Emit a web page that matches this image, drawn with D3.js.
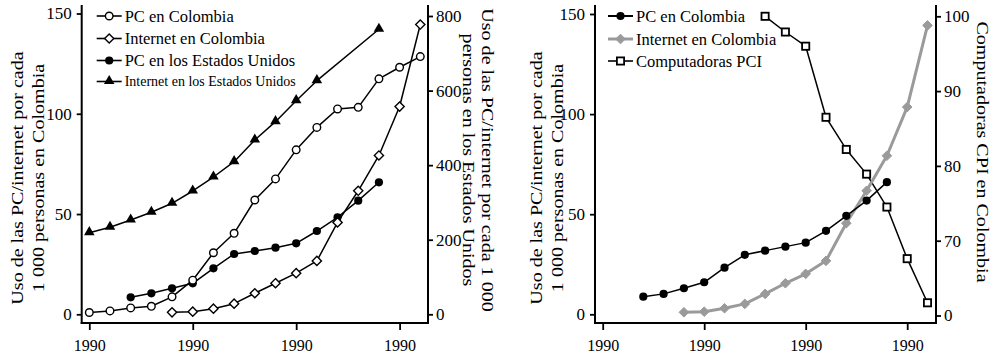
<!DOCTYPE html>
<html>
<head>
<meta charset="utf-8">
<script src="https://cdn.jsdelivr.net/npm/d3@7"></script>
<style>
body { margin: 0; background: #fff; }
svg text { font-family: "Liberation Serif", "DejaVu Serif", serif; fill: #000; }
</style>
</head>
<body>
<div id="chart"></div>
<script>
// ---- panel izquierdo ----
var yearsPcCol = [1980, 1981, 1982, 1983, 1984, 1985, 1986, 1987, 1988, 1989, 1990, 1991, 1992, 1993, 1994, 1995, 1996];
var pcCol = [0.9, 1.7, 3.2, 4.0, 8.7, 17.0, 30.7, 40.4, 57.0, 67.5, 82.0, 93.2, 102.4, 103.2, 117.4, 123.2, 128.5];
var yearsIntCol = [1984, 1985, 1986, 1987, 1988, 1989, 1990, 1991, 1992, 1993, 1994, 1995, 1996];
var intCol = [1.0, 1.3, 2.8, 5.3, 10.5, 15.5, 20.5, 26.6, 45.8, 61.6, 79.2, 103.6, 144.5];
var yearsPcUS = [1982, 1983, 1984, 1985, 1986, 1987, 1988, 1989, 1990, 1991, 1992, 1993, 1994];
var pcUS = [45.6, 56.3, 69.7, 83.1, 123.4, 161.7, 169.8, 178.6, 190.4, 223.4, 260.2, 304.7, 354];
var yearsIntUS = [1980, 1981, 1982, 1983, 1984, 1985, 1986, 1987, 1988, 1989, 1990, 1991, 1994];
var intUS = [218.9, 233.3, 252.9, 273.6, 297.7, 330.7, 368.2, 409.3, 467.5, 516.6, 572.9, 626.5, 764.4];

// ---- panel derecho ----
var yearsPcCol2 = [1982, 1983, 1984, 1985, 1986, 1987, 1988, 1989, 1990, 1991, 1992, 1993, 1994];
var pcCol2 = [8.8, 10.2, 13.0, 16.0, 23.3, 29.7, 31.8, 33.8, 35.8, 41.7, 49.2, 56.8, 66.0];
var yearsIntCol2 = [1984, 1985, 1986, 1987, 1988, 1989, 1990, 1991, 1992, 1993, 1994, 1995, 1996];
var intCol2 = [1.0, 1.3, 3.0, 5.2, 10.2, 15.5, 20.2, 26.7, 45.5, 61.7, 79.2, 103.5, 144.3];
var yearsCPI = [1988, 1989, 1990, 1991, 1992, 1993, 1994, 1995, 1996];
var cpi = [100, 97.9, 96, 86.5, 82.2, 78.9, 74.5, 67.6, 61.7];

// ---- ejes ----
var xTicks = [1980, 1985, 1990, 1995];
var xTickLabels = ["1990", "1990", "1990", "1990"];
var yTicksCol = [0, 50, 100, 150];
var yTicksUS = [0, 200, 400, 600, 800];
var yTicksCPI = [60, 70, 80, 90, 100];
var yTickLabelsCPI = ["0", "70", "80", "90", "100"];

var legendA = ["PC en Colombia", "Internet en Colombia", "PC en los Estados Unidos", "Internet en los Estados Unidos"];
var legendB = ["PC en Colombia", "Internet en Colombia", "Computadoras PCI"];

var width = 1002, height = 357;
var gray = "#9a9a9a";

var svg = d3.select("#chart")
	.append("svg")
	.attr("width", width)
	.attr("height", height);

var xA = d3.scaleLinear().domain([1980, 1996]).range([89.3, 420.3]);
var yColA = d3.scaleLinear().domain([0, 150]).range([314.3, 13.5]);
var yUS = d3.scaleLinear().domain([0, 800]).range([314.3, 16]);

var xB = d3.scaleLinear().domain([1980, 1996]).range([602.7, 927.5]);
var yColB = d3.scaleLinear().domain([0, 150]).range([314.3, 14]);
var yCPI = d3.scaleLinear().domain([60, 100]).range([315.5, 16.3]);

function diamondPath(r) {
	return "M0," + (-r) + "L" + r + ",0L0," + r + "L" + (-r) + ",0Z";
}

function marker(g, type, x, y) {
	if (type == "oc") {
		g.append("circle").attr("cx", x).attr("cy", y).attr("r", 3.8)
			.attr("fill", "#fff").attr("stroke", "#000").attr("stroke-width", 1.4);
	} else if (type == "fc") {
		g.append("circle").attr("cx", x).attr("cy", y).attr("r", 4.1).attr("fill", "#000");
	} else if (type == "od") {
		g.append("path").attr("d", diamondPath(4.6)).attr("transform", "translate(" + x + "," + y + ")")
			.attr("fill", "#fff").attr("stroke", "#000").attr("stroke-width", 1.4);
	} else if (type == "gd") {
		g.append("path").attr("d", diamondPath(4.8)).attr("transform", "translate(" + x + "," + y + ")")
			.attr("fill", gray).attr("stroke", gray).attr("stroke-width", 1);
	} else if (type == "ft") {
		g.append("path").attr("d", d3.symbol().type(d3.symbolTriangle).size(48)())
			.attr("transform", "translate(" + x + "," + (y - 0.5) + ")").attr("fill", "#000");
	} else if (type == "os") {
		g.append("rect").attr("x", x - 3.6).attr("y", y - 3.6).attr("width", 7.2).attr("height", 7.2)
			.attr("fill", "#fff").attr("stroke", "#000").attr("stroke-width", 1.8);
	}
}

function drawSeries(xs, vals, xScale, yScale, type, color, lw) {
	var data = xs.map(function(d, i) { return [d, vals[i]]; });
	var g = svg.append("g");
	var line = d3.line()
		.x(function(d) { return xScale(d[0]); })
		.y(function(d) { return yScale(d[1]); });
	g.append("path").datum(data)
		.attr("d", line)
		.attr("fill", "none")
		.attr("stroke", color)
		.attr("stroke-width", lw)
		.attr("stroke-linejoin", "round");
	data.forEach(function(d) {
		marker(g, type, xScale(d[0]), yScale(d[1]));
	});
}

function frame(left, right, top, bottom) {
	var g = svg.append("g").attr("stroke", "#000").attr("stroke-width", 2);
	g.append("line").attr("x1", left).attr("x2", left).attr("y1", top).attr("y2", bottom + 1);
	g.append("line").attr("x1", right).attr("x2", right).attr("y1", top).attr("y2", bottom + 1);
	g.append("line").attr("x1", left - 1).attr("x2", right + 1).attr("y1", bottom).attr("y2", bottom);
}

function styleAxis(g, size) {
	g.select(".domain").remove();
	g.selectAll(".tick line").attr("stroke", "#000").attr("stroke-width", 1.8);
	g.selectAll(".tick text").attr("font-size", size + "px").attr("fill", "#000")
		.style("font-family", "'Liberation Serif', 'DejaVu Serif', serif");
}

function drawAxes(xScale, yLeft, yRight, left, right, bottom, rightTicks, rightLabels) {
	frame(left, right, 5, bottom);

	var gx = svg.append("g").attr("transform", "translate(0," + bottom + ")")
		.call(d3.axisBottom(xScale).tickValues(xTicks).tickSize(7).tickPadding(10)
			.tickFormat(function(d, i) { return xTickLabels[i]; }));
	styleAxis(gx, 16);

	var gl = svg.append("g").attr("transform", "translate(" + left + ",0)")
		.call(d3.axisLeft(yLeft).tickValues(yTicksCol).tickSize(5).tickPadding(5));
	styleAxis(gl, 17);

	var gr = svg.append("g").attr("transform", "translate(" + right + ",0)")
		.call(d3.axisRight(yRight).tickValues(rightTicks).tickSize(5).tickPadding(3)
			.tickFormat(function(d, i) { return rightLabels ? rightLabels[i] : d; }));
	styleAxis(gr, 17);
}

function vTitle(x, y, angle, txt, size) {
	svg.append("text")
		.attr("transform", "translate(" + x + "," + y + ") rotate(" + angle + ") scale(1.18,1)")
		.attr("text-anchor", "middle")
		.attr("dominant-baseline", "central")
		.attr("font-size", size + "px")
		.text(txt);
}

function legend(x0, y0, rows, items) {
	items.forEach(function(it, i) {
		var y = y0 + rows[i];
		var g = svg.append("g");
		g.append("line").attr("x1", x0).attr("x2", x0 + 25).attr("y1", y).attr("y2", y)
			.attr("stroke", it.color).attr("stroke-width", it.lw);
		marker(g, it.type, x0 + 12.5, y);
		g.append("text").attr("x", x0 + 28).attr("y", y)
			.attr("dominant-baseline", "central")
			.attr("font-size", it.size + "px")
			.text(it.label);
	});
}

// panel izquierdo
drawAxes(xA, yColA, yUS, 81.7, 428, 323, yTicksUS, null);
drawSeries(yearsIntUS, intUS, xA, yUS, "ft", "#000", 1.5);
drawSeries(yearsPcUS, pcUS, xA, yUS, "fc", "#000", 1.5);
drawSeries(yearsIntCol, intCol, xA, yColA, "od", "#000", 1.5);
drawSeries(yearsPcCol, pcCol, xA, yColA, "oc", "#000", 1.5);

vTitle(17, 178, -90, "Uso de las PC/internet por cada", 17);
vTitle(38, 178, -90, "1 000 personas en Colombia", 17);
vTitle(488, 160, 90, "Uso de las PC/internet por cada 1 000", 17);
vTitle(469, 160, 90, "personas en los Estados Unidos", 17);

legend(96.7, 0, [16, 38.5, 60.5, 81.5], [
	{ label: legendA[0], type: "oc", color: "#000", lw: 1.6, size: 16.5 },
	{ label: legendA[1], type: "od", color: "#000", lw: 1.6, size: 16.5 },
	{ label: legendA[2], type: "fc", color: "#000", lw: 1.6, size: 16.5 },
	{ label: legendA[3], type: "ft", color: "#000", lw: 1.6, size: 14 }
]);

// panel derecho
drawAxes(xB, yColB, yCPI, 595, 936, 323, yTicksCPI, yTickLabelsCPI);
drawSeries(yearsCPI, cpi, xB, yCPI, "os", "#000", 1.5);
drawSeries(yearsIntCol2, intCol2, xB, yColB, "gd", gray, 3);
drawSeries(yearsPcCol2, pcCol2, xB, yColB, "fc", "#000", 1.5);

vTitle(536, 178, -90, "Uso de las PC/internet por cada", 17);
vTitle(557, 178, -90, "1 000 personas en Colombia", 17);
vTitle(983, 152, 90, "Computadoras CPI en Colombia", 17);

legend(608, 0, [16, 39, 61], [
	{ label: legendB[0], type: "fc", color: "#000", lw: 2, size: 16.5 },
	{ label: legendB[1], type: "gd", color: gray, lw: 3, size: 16.5 },
	{ label: legendB[2], type: "os", color: "#000", lw: 1.6, size: 16.5 }
]);
</script>
</body>
</html>
